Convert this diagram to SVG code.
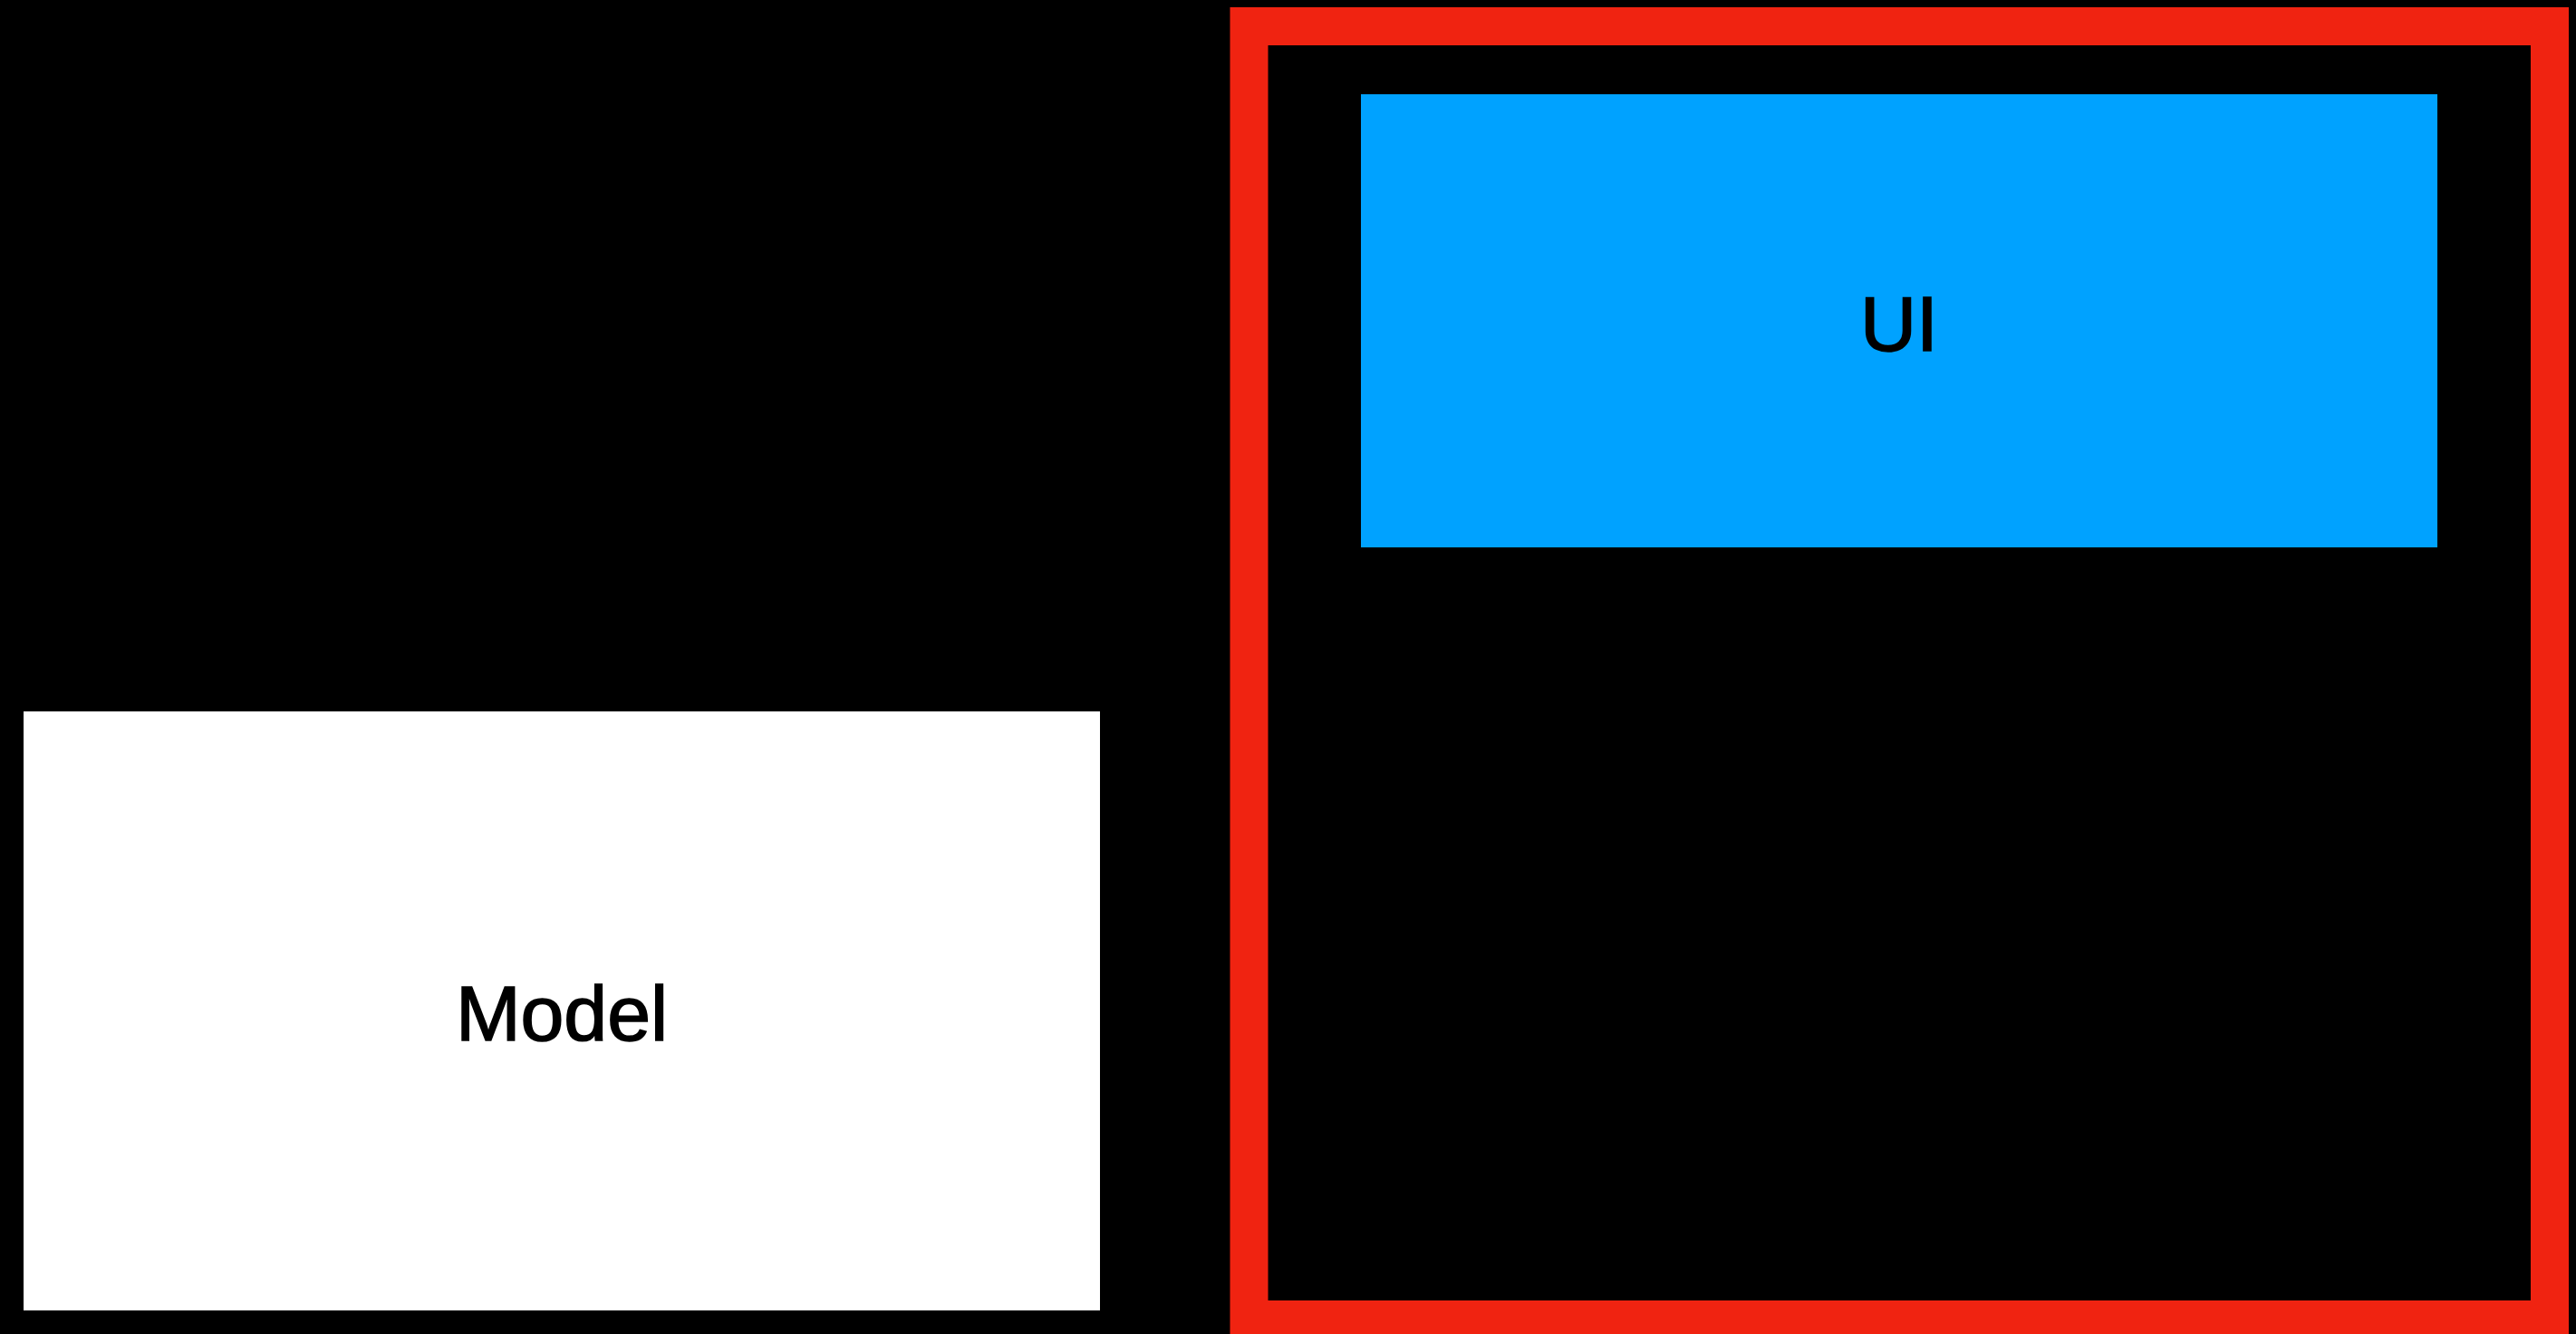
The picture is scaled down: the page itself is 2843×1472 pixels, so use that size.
<svg xmlns="http://www.w3.org/2000/svg" width="2843" height="1472" viewBox="0 0 2843 1472">
  <style>
    .label { font-family: "Liberation Sans", Arial, Helvetica, sans-serif; font-size: 86px; fill: #000000; stroke: #000000; stroke-width: 1.6px; text-anchor: middle; }
  </style>
  <rect x="0" y="0" width="2843" height="1472" fill="#000000"/>
  <g id="frame">
    <rect x="1378.5" y="29" width="1435.5" height="1427" fill="none" stroke="#F02311" stroke-width="42"/>
  </g>
  <g id="ui">
    <rect x="1502" y="104" width="1188" height="500" fill="#00A2FF"/>
    <text class="label" x="2096" y="387">UI</text>
  </g>
  <g id="model">
    <rect x="26" y="785" width="1188" height="661" fill="#FFFFFF"/>
    <text class="label" x="620" y="1148">Model</text>
  </g>
  <g id="connectors"></g>
</svg>
